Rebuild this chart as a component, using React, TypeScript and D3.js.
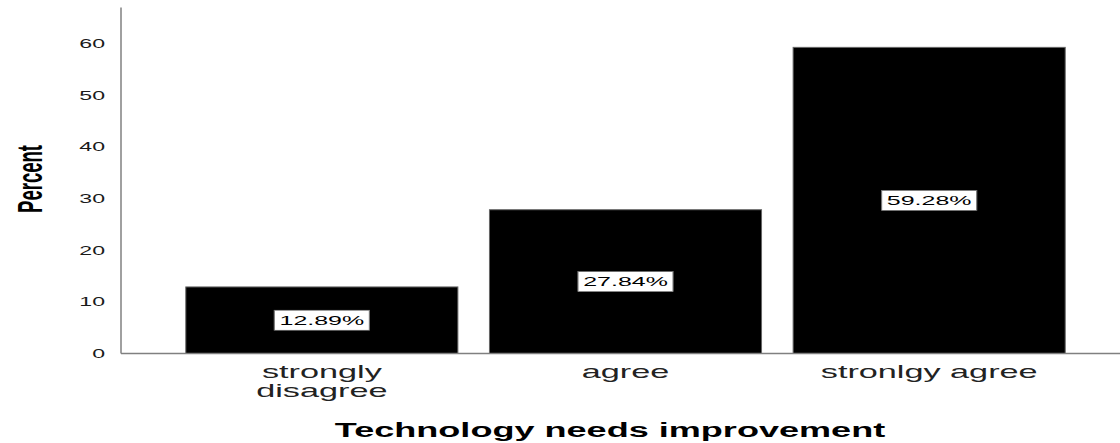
import React from "react";
import * as d3 from "d3";

const categories: string[] = ["strongly disagree", "agree", "stronlgy agree"];
const percents: number[] = [12.89, 27.84, 59.28];
const yTicks: number[] = [0, 10, 20, 30, 40, 50, 60];
const xTitle = "Technology needs improvement";
const yTitle = "Percent";

const W = 1120;
const H = 443;
const K = 1.85; // horizontal stretch of the original rendering
const FONT = "'Liberation Sans', Arial, sans-serif";

const axisX = 121;
const baseY = 353.5;
const topY = 7.5;

const x = d3
  .scaleBand<string>()
  .domain(categories)
  .range([170, 1081])
  .paddingInner(0.104)
  .paddingOuter(0.052);

const y = d3.scaleLinear().domain([0, 67]).range([baseY, topY]);

function wrap(label: string): string[] {
  if (label.length <= 15) return [label];
  const i = label.lastIndexOf(" ");
  return [label.slice(0, i), label.slice(i + 1)];
}

const fmt = (v: number) => d3.format(".2f")(v) + "%";

export default function App() {
  return (
    <svg
      width={W}
      height={H}
      style={{ position: "absolute", left: 0, top: 0, background: "#fff" }}
      fontFamily={FONT}
    >
      <rect x={0} y={0} width={W} height={H} fill="#fff" />
      {/* bars */}
      {categories.map((c, i) => (
        <rect
          key={c}
          x={x(c)!}
          y={y(percents[i])}
          width={x.bandwidth()}
          height={baseY - y(percents[i])}
          fill="#000"
          stroke="#666"
          strokeWidth={1}
        />
      ))}
      {/* axes */}
      <line x1={axisX} x2={axisX} y1={topY} y2={baseY} stroke="#808080" strokeWidth={1.5} />
      <line x1={axisX} x2={W} y1={baseY} y2={baseY} stroke="#808080" strokeWidth={1.5} />
      {/* y tick labels */}
      {yTicks.map((t) => (
        <text
          key={t}
          transform={`translate(105,${y(t)}) scale(${K},1)`}
          textAnchor="end"
          dominantBaseline="central"
          fontSize={12.5}
          fill="#1a1a1a"
        >
          {t}
        </text>
      ))}
      {/* value labels */}
      {categories.map((c, i) => {
        const cx = x(c)! + x.bandwidth() / 2;
        const cy = (y(percents[i]) + baseY) / 2;
        return (
          <g key={c} transform={`translate(${cx},${cy}) scale(${K},1)`}>
            <rect x={-25.7} y={-10} width={51.4} height={20} fill="#fff" stroke="#777" strokeWidth={0.6} />
            <text textAnchor="middle" dominantBaseline="central" fontSize={13.5} fill="#000">
              {fmt(percents[i])}
            </text>
          </g>
        );
      })}
      {/* category labels */}
      {categories.map((c) => {
        const cx = x(c)! + x.bandwidth() / 2;
        return wrap(c).map((line, j) => (
          <text
            key={c + j}
            transform={`translate(${cx},${378 + j * 19}) scale(${K},1)`}
            textAnchor="middle"
            fontSize={18.5}
            fill="#222"
          >
            {line}
          </text>
        ));
      })}
      {/* x title */}
      <text
        transform={`translate(610,437) scale(${K},1)`}
        textAnchor="middle"
        fontSize={19.5}
        fontWeight="bold"
        fill="#000"
      >
        {xTitle}
      </text>
      {/* y title */}
      <text
        transform={`translate(42,179) scale(${K},1) rotate(-90)`}
        textAnchor="middle"
        fontSize={18.5}
        fontWeight="bold"
        fill="#000"
      >
        {yTitle}
      </text>
    </svg>
  );
}
